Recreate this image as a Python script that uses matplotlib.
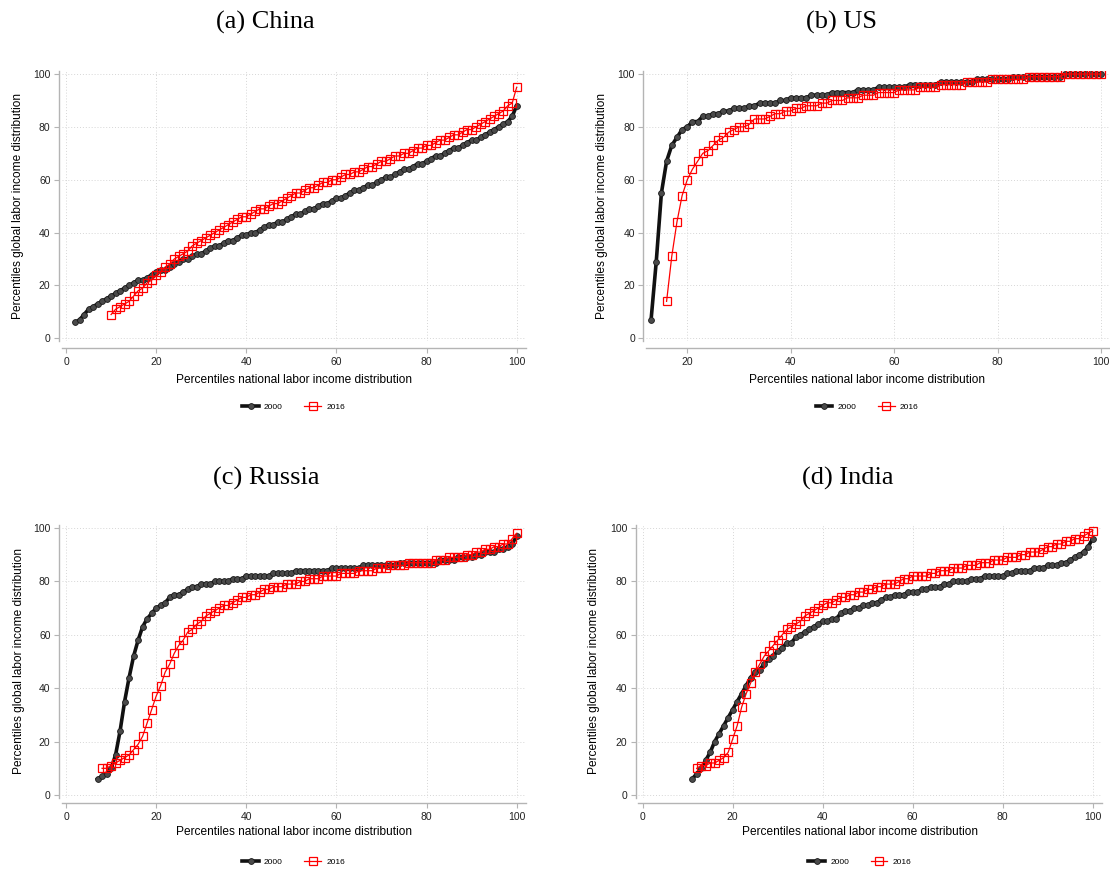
import numpy as np
import matplotlib
matplotlib.use("Agg")
from matplotlib import pyplot as plt
from matplotlib.lines import Line2D

plt.rcParams['font.family'] = ['Liberation Sans', 'DejaVu Sans']

# percentile of national distribution runs up to 100, each list ends at x=100
china_2000 = [6, 7, 9, 11, 12, 13, 14, 15, 16, 17,
              18, 19, 20, 21, 22, 22, 23, 24, 25, 26,
              26, 27, 28, 29, 30, 30, 31, 32, 32, 33,
              34, 35, 35, 36, 37, 37, 38, 39, 39, 40,
              40, 41, 42, 43, 43, 44, 44, 45, 46, 47,
              47, 48, 49, 49, 50, 51, 51, 52, 53, 53,
              54, 55, 56, 56, 57, 58, 58, 59, 60, 61,
              61, 62, 63, 64, 64, 65, 66, 66, 67, 68,
              69, 69, 70, 71, 72, 72, 73, 74, 75, 75,
              76, 77, 78, 79, 80, 81, 82, 84, 88]
china_2016 = [9, 11, 12, 13, 14, 16, 18, 19, 21, 22,
              24, 25, 27, 28, 30, 31, 32, 33, 35, 36,
              37, 38, 39, 40, 41, 42, 43, 44, 45, 46,
              46, 47, 48, 49, 49, 50, 51, 51, 52, 53,
              54, 55, 55, 56, 57, 57, 58, 59, 59, 60,
              60, 61, 62, 62, 63, 63, 64, 65, 65, 66,
              67, 67, 68, 69, 69, 70, 70, 71, 72, 72,
              73, 73, 74, 75, 75, 76, 77, 77, 78, 79,
              79, 80, 81, 82, 83, 84, 85, 86, 88, 89,
              95]

us_2000 = [7, 29, 55, 67, 73, 76, 79, 80, 82, 82,
           84, 84, 85, 85, 86, 86, 87, 87, 87, 88,
           88, 89, 89, 89, 89, 90, 90, 91, 91, 91,
           91, 92, 92, 92, 92, 93, 93, 93, 93, 93,
           94, 94, 94, 94, 95, 95, 95, 95, 95, 95,
           96, 96, 96, 96, 96, 96, 97, 97, 97, 97,
           97, 97, 97, 98, 98, 98, 98, 98, 98, 98,
           99, 99, 99, 99, 99, 99, 99, 99, 99, 99,
           100, 100, 100, 100, 100, 100, 100, 100]
us_2016 = [14, 31, 44, 54, 60, 64, 67, 70, 71, 73,
           75, 76, 78, 79, 80, 80, 81, 83, 83, 83,
           84, 85, 85, 86, 86, 87, 87, 88, 88, 88,
           89, 89, 90, 90, 90, 91, 91, 91, 92, 92,
           92, 93, 93, 93, 93, 94, 94, 94, 94, 95,
           95, 95, 95, 96, 96, 96, 96, 96, 97, 97,
           97, 97, 97, 98, 98, 98, 98, 98, 98, 98,
           99, 99, 99, 99, 99, 99, 99, 100, 100, 100,
           100, 100, 100, 100, 100]

russia_2000 = [6, 7, 8, 10, 15, 24, 35, 44, 52, 58,
               63, 66, 68, 70, 71, 72, 74, 75, 75, 76,
               77, 78, 78, 79, 79, 79, 80, 80, 80, 80,
               81, 81, 81, 82, 82, 82, 82, 82, 82, 83,
               83, 83, 83, 83, 84, 84, 84, 84, 84, 84,
               84, 84, 85, 85, 85, 85, 85, 85, 85, 86,
               86, 86, 86, 86, 86, 86, 86, 87, 87, 87,
               87, 87, 87, 87, 87, 87, 88, 88, 88, 88,
               89, 89, 89, 89, 90, 90, 91, 91, 91, 92,
               92, 93, 94, 97]
russia_2016 = [10, 10, 11, 12, 13, 14, 15, 17, 19, 22,
               27, 32, 37, 41, 46, 49, 53, 56, 58, 61,
               62, 64, 65, 67, 68, 69, 70, 71, 71, 72,
               73, 74, 74, 75, 75, 76, 77, 77, 78, 78,
               78, 79, 79, 79, 80, 80, 81, 81, 81, 82,
               82, 82, 82, 83, 83, 83, 83, 84, 84, 84,
               84, 85, 85, 85, 86, 86, 86, 86, 87, 87,
               87, 87, 87, 87, 88, 88, 88, 89, 89, 89,
               89, 90, 90, 91, 91, 92, 92, 93, 93, 94,
               94, 96, 98]

india_2000 = [6, 8, 10, 13, 16, 20, 23, 26, 29, 32,
              35, 38, 41, 44, 46, 47, 49, 51, 52, 54,
              55, 57, 57, 59, 60, 61, 62, 63, 64, 65,
              65, 66, 66, 68, 69, 69, 70, 70, 71, 71,
              72, 72, 73, 74, 74, 75, 75, 75, 76, 76,
              76, 77, 77, 78, 78, 78, 79, 79, 80, 80,
              80, 80, 81, 81, 81, 82, 82, 82, 82, 82,
              83, 83, 84, 84, 84, 84, 85, 85, 85, 86,
              86, 86, 87, 87, 88, 89, 90, 91, 93, 96]
india_2016 = [10, 11, 11, 12, 12, 13, 14, 16, 21, 26,
              33, 38, 42, 46, 49, 52, 54, 56, 58, 60,
              62, 63, 64, 65, 67, 68, 69, 70, 71, 72,
              72, 73, 74, 74, 75, 75, 76, 76, 77, 77,
              78, 78, 79, 79, 79, 80, 81, 81, 82, 82,
              82, 82, 83, 83, 84, 84, 84, 85, 85, 85,
              86, 86, 86, 87, 87, 87, 88, 88, 88, 89,
              89, 89, 90, 90, 91, 91, 91, 92, 93, 93,
              94, 94, 95, 95, 96, 96, 97, 98, 99]

titles = ['(a) China', '(b) US', '(c) Russia', '(d) India']
xticks_by_panel = [[0, 20, 40, 60, 80, 100], [20, 40, 60, 80, 100],
                   [0, 20, 40, 60, 80, 100], [0, 20, 40, 60, 80, 100]]
yticks = [0, 20, 40, 60, 80, 100]
series = [(china_2000, china_2016), (us_2000, us_2016),
          (russia_2000, russia_2016), (india_2000, india_2016)]

W, H = 1110, 873
fig = plt.figure(figsize=(W / 100, H / 100), dpi=100)

# panel boxes in pixels: left, right, top, bottom
boxes = [(61.5, 525.7, 71.4, 341.0), (645.9, 1111.3, 71.4, 341.0),
         (61.5, 525.7, 525.3, 797.7), (638.2, 1101.7, 525.3, 797.7)]
xlims = [(-1, 102), (12, 102), (-1, 102), (-1, 102)]
title_pos = [(265, 22), (842, 22), (266, 478), (848, 478)]
xlab_y = [-0.145, -0.145, -0.126, -0.126]
xlab_x = [0.5, 0.475, 0.5, 0.478]
ylab_x = [-0.094, -0.095, -0.092, -0.096]
leg_y = [-0.245, -0.245, -0.236, -0.236]
bottom_off = [5.2, 5.2, 4.0, 4.0]

axis_grey = '#b4b4b4'
black_style = dict(color='#111111', lw=2.6, marker='o', ms=4.2,
                   mfc='#4a4a4a', mec='#1a1a1a', mew=0.6)
red_style = dict(color='#ff0000', lw=0.9, marker='s', ms=5.2,
                 mfc='none', mec='#ff0000', mew=0.9)

for i in range(4):
    l, r, t, b = boxes[i]
    ax = fig.add_axes([l / W, 1 - b / H, (r - l) / W, (b - t) / H])
    y0, y1 = series[i]
    x0 = np.arange(101 - len(y0), 101)
    x1 = np.arange(101 - len(y1), 101)

    ax.plot(x0, y0, zorder=3, **black_style)
    ax.plot(x1, y1, zorder=4, **red_style)

    ax.set_xlim(*xlims[i])
    ax.set_ylim(-1, 101)
    ax.set_xticks(xticks_by_panel[i])
    ax.set_yticks(yticks)
    ax.grid(True, color='#d6d6d6', lw=0.7, ls=(0, (1, 2)))
    ax.set_axisbelow(True)

    for s in ['top', 'right']:
        ax.spines[s].set_visible(False)
    ax.spines['left'].set_position(('outward', 1.9))
    ax.spines['bottom'].set_position(('outward', bottom_off[i]))
    for s in ['left', 'bottom']:
        ax.spines[s].set_color(axis_grey)
        ax.spines[s].set_linewidth(1.0)
    ax.tick_params(direction='out', length=3.5, width=0.8, color=axis_grey,
                   labelsize=7.5, labelcolor='#222222', pad=2.5)

    ax.set_xlabel('Percentiles national labor income distribution', fontsize=8.6)
    ax.set_ylabel('Percentiles global labor income distribution', fontsize=8.6)
    ax.xaxis.set_label_coords(xlab_x[i], xlab_y[i])
    ax.yaxis.set_label_coords(ylab_x[i], 0.5)
    ax.xaxis.label.set_va('center')
    ax.yaxis.label.set_va('center')

    handles = [Line2D([], [], **black_style), Line2D([], [], **red_style)]
    ax.legend(handles, ['2000', '2016'], ncol=2, frameon=False, fontsize=6,
              loc='center', bbox_to_anchor=(xlab_x[i], leg_y[i]),
              handlelength=2.0, columnspacing=2.6, handletextpad=0.6)

    tx, ty = title_pos[i]
    fig.text(tx / W, 1 - ty / H, titles[i], ha='center', va='center',
             fontsize=19, family=['Liberation Serif', 'DejaVu Serif'])

fig.savefig('out.png', dpi=100)
